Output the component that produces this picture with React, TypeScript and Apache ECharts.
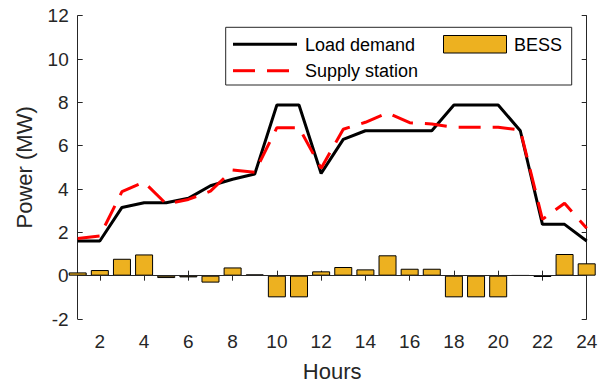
import React, { useEffect, useRef } from "react";
import * as echarts from "echarts";

// Hour of day (x positions of every mark)
const hours = [1, 2, 3, 4, 5, 6, 7, 8, 9, 10, 11, 12, 13, 14, 15, 16, 17, 18, 19, 20, 21, 22, 23, 24];

// Load demand (MW)
const loadDemand = [
  1.6, 1.6, 3.15, 3.37, 3.37, 3.57, 4.15, 4.45, 4.69, 7.88, 7.88, 4.72,
  6.29, 6.69, 6.69, 6.69, 6.69, 7.88, 7.88, 7.88, 6.69, 2.37, 2.37, 1.6,
];

// Supply station output (MW)
const supplyStation = [
  1.72, 1.83, 3.88, 4.32, 3.31, 3.52, 3.9, 4.88, 4.77, 6.83, 6.83, 4.96,
  6.76, 7.08, 7.52, 7.06, 7.0, 6.85, 6.85, 6.85, 6.72, 2.6, 3.34, 2.19,
];

// Battery energy storage system power (MW)
const bess = [
  0.15, 0.26, 0.78, 0.98, -0.11, -0.08, -0.32, 0.38, 0.06, -1.0, -1.0, 0.2,
  0.4, 0.29, 0.94, 0.32, 0.32, -1.0, -1.0, -1.0, 0.02, -0.06, 1.0, 0.57,
];

// Labelled hour ticks
const xTickValues = [2, 4, 6, 8, 10, 12, 14, 16, 18, 20, 22, 24];

// Legend entries
const legendNames = ["Load demand", "Supply station", "BESS"];

const FONT = "'Liberation Sans', Arial, Helvetica, sans-serif";
const AXIS_COLOR = "#262626";
const BAR_COLOR = "#EDB120";
const RED_DASH = [22, 12];

export default function App() {
  const ref = useRef<HTMLDivElement>(null);

  useEffect(() => {
    if (!ref.current) return;
    const chart = echarts.init(ref.current, undefined, { renderer: "svg" });

    const pairs = (vals: number[]) => hours.map((h, i) => [h, vals[i]]);

    const axisLine = { show: true, lineStyle: { color: AXIS_COLOR, width: 1 } };
    const tickStyle = { color: AXIS_COLOR, width: 1 };
    const legendText = (text: string, x: number, y: number) => ({
      type: "text",
      z: 11,
      x,
      y,
      style: { text, fill: "#000", font: `18px ${FONT}`, verticalAlign: "middle", align: "left" },
    });

    chart.setOption({
      animation: false,
      backgroundColor: "#ffffff",
      textStyle: { fontFamily: FONT },
      grid: { left: 77.7, right: 20.3, top: 15.7, bottom: 68, containLabel: false },
      xAxis: [
        {
          type: "value",
          min: 1,
          max: 24,
          name: "Hours",
          nameLocation: "middle",
          nameGap: 41,
          nameTextStyle: { fontSize: 22, color: AXIS_COLOR, fontFamily: FONT },
          axisLine,
          axisTick: { show: true, inside: true, length: 5, lineStyle: tickStyle, customValues: xTickValues },
          axisLabel: {
            show: true,
            customValues: xTickValues,
            fontSize: 19,
            color: AXIS_COLOR,
            fontFamily: FONT,
            margin: 13,
          },
          splitLine: { show: false },
        },
        {
          type: "value",
          position: "top",
          min: 1,
          max: 24,
          axisLine,
          axisTick: { show: true, inside: true, length: 5, lineStyle: tickStyle, customValues: xTickValues },
          axisLabel: { show: false },
          splitLine: { show: false },
        },
      ],
      yAxis: [
        {
          type: "value",
          min: -2,
          max: 12,
          interval: 2,
          name: "Power (MW)",
          nameLocation: "middle",
          nameGap: 42,
          nameTextStyle: { fontSize: 22, color: AXIS_COLOR, fontFamily: FONT },
          axisLine,
          axisTick: { show: true, inside: true, length: 5, lineStyle: tickStyle },
          axisLabel: { fontSize: 19, color: AXIS_COLOR, fontFamily: FONT, margin: 9 },
          splitLine: { show: false },
        },
        {
          type: "value",
          position: "right",
          min: -2,
          max: 12,
          interval: 2,
          axisLine,
          axisTick: { show: true, inside: true, length: 5, lineStyle: tickStyle },
          axisLabel: { show: false },
          splitLine: { show: false },
        },
      ],
      // Boxed legend: two line keys on the left, bar key on the right
      graphic: [
        {
          type: "rect",
          z: 10,
          shape: { x: 225.7, y: 27.3, width: 346, height: 57.7 },
          style: { fill: "#ffffff", stroke: AXIS_COLOR, lineWidth: 1 },
        },
        {
          type: "line",
          z: 11,
          shape: { x1: 233, y1: 44.3, x2: 297, y2: 44.3 },
          style: { stroke: "#000", lineWidth: 3 },
        },
        {
          type: "line",
          z: 11,
          shape: { x1: 233, y1: 70.7, x2: 297, y2: 70.7 },
          style: { stroke: "#ff0000", lineWidth: 3, lineDash: RED_DASH },
        },
        {
          type: "rect",
          z: 11,
          shape: { x: 443.5, y: 35.5, width: 63, height: 17.5 },
          style: { fill: BAR_COLOR, stroke: "#000", lineWidth: 1 },
        },
        legendText(legendNames[0], 305, 44.8),
        legendText(legendNames[1], 305, 71.2),
        legendText(legendNames[2], 514, 44.8),
      ],
      series: [
        {
          name: legendNames[2],
          type: "bar",
          data: pairs(bess),
          barWidth: 18,
          itemStyle: { color: BAR_COLOR, borderColor: "#000", borderWidth: 1 },
          markLine: {
            silent: true,
            symbol: "none",
            label: { show: false },
            lineStyle: { color: AXIS_COLOR, width: 1, type: "solid" },
            data: [{ yAxis: 0 }],
          },
        },
        {
          name: legendNames[0],
          type: "line",
          data: pairs(loadDemand),
          symbol: "none",
          lineStyle: { color: "#000", width: 3 },
        },
        {
          name: legendNames[1],
          type: "line",
          data: pairs(supplyStation),
          symbol: "none",
          lineStyle: { color: "#ff0000", width: 3, type: RED_DASH },
        },
      ],
    });

    return () => chart.dispose();
  }, []);

  return <div ref={ref} style={{ width: 607, height: 387, position: "absolute", left: 0, top: 0 }} />;
}
